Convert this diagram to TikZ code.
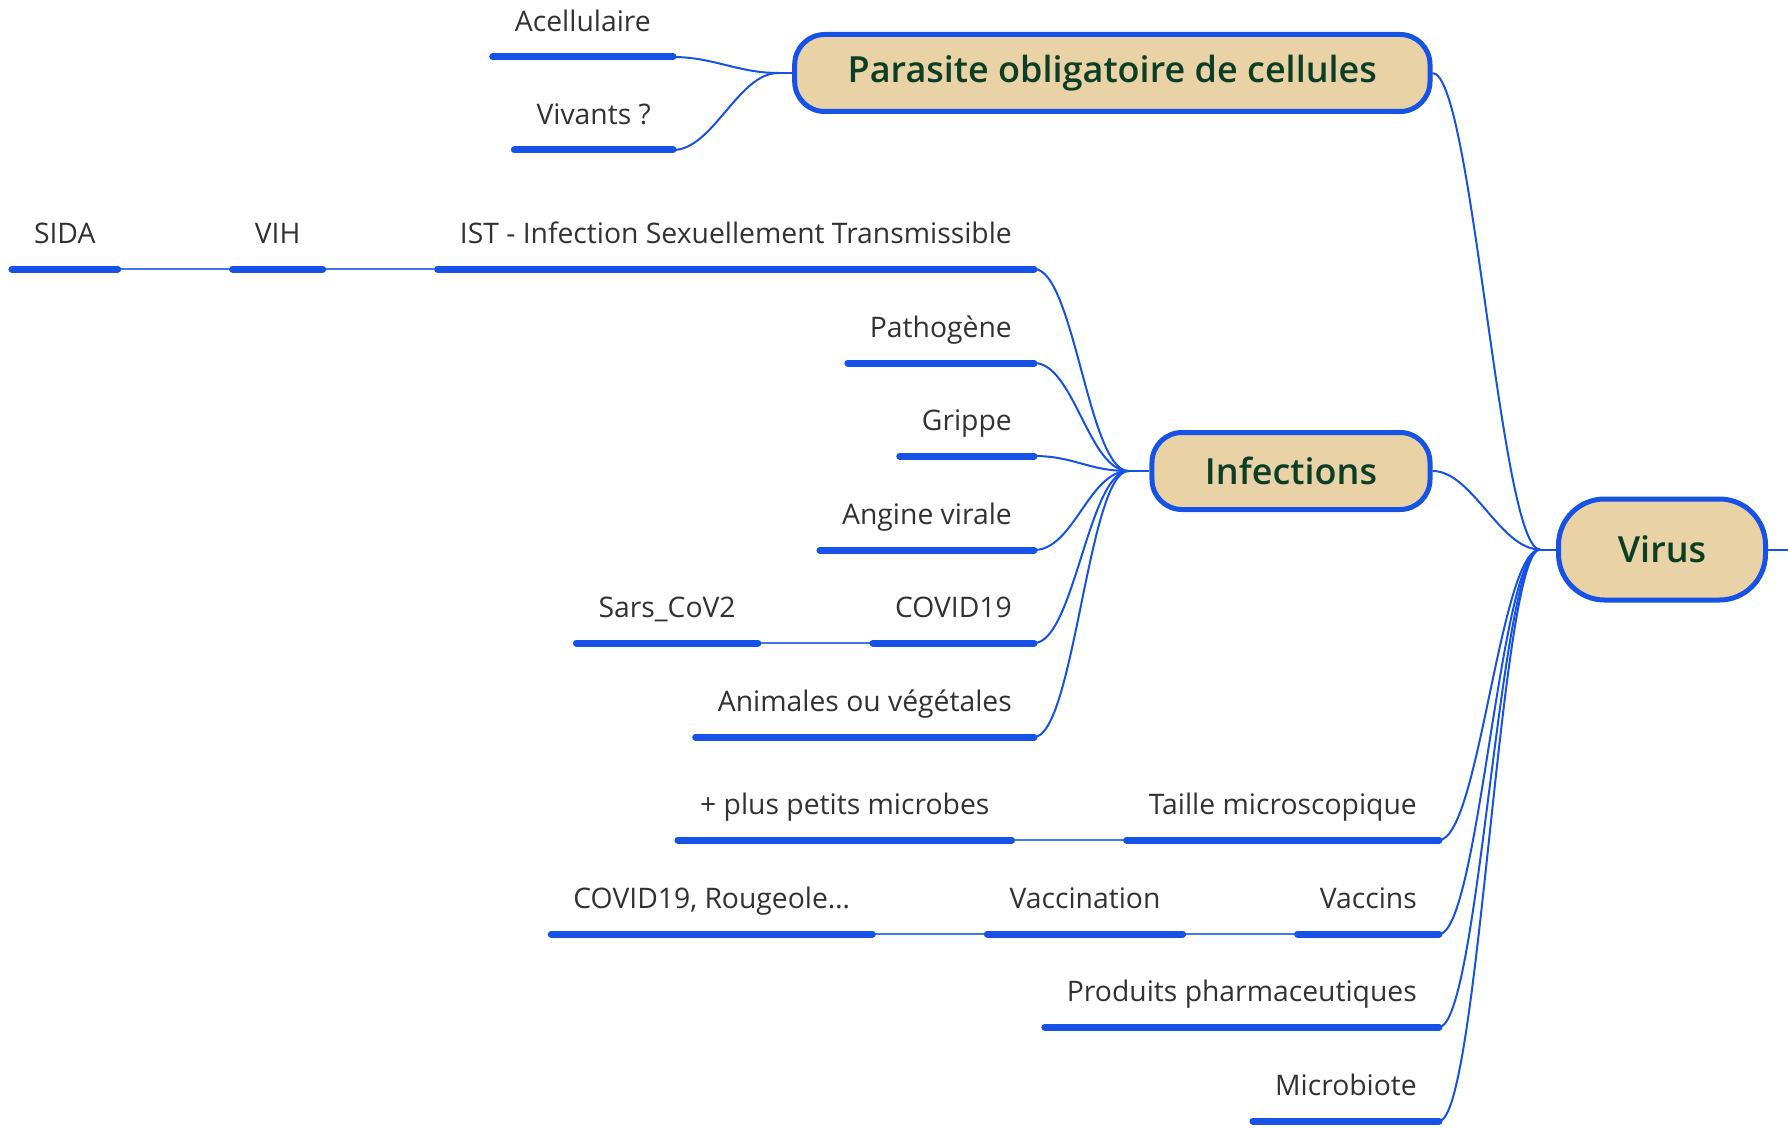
\documentclass[tikz,border=0pt]{standalone}
\usepackage{fontspec}
\setmainfont{Open Sans}
\newfontfamily\boxfont{Open Sans Semibold}
\usetikzlibrary{positioning, calc}

\definecolor{mapblue}{RGB}{22,82,232}
\definecolor{boxtan}{RGB}{233,211,166}
\definecolor{titlegreen}{RGB}{12,62,38}
\definecolor{labelgray}{RGB}{50,50,50}

\begin{document}
\begin{tikzpicture}[x=1pt, y=-1pt]
    % Define display style
    \tikzstyle{mainbox}=[draw=mapblue, line width=5pt, fill=boxtan, rounded corners=30pt, text=titlegreen, font=\fontsize{36}{42}\boxfont, inner xsep=53pt, minimum height=77pt]
    \tikzstyle{rootbox}=[mainbox, rounded corners=46pt, minimum height=101pt, minimum width=207pt]
    \tikzstyle{topic}=[anchor=south east, text=labelgray, font=\fontsize{28.3}{33}\selectfont, inner xsep=22pt, inner ysep=0pt, text depth=25pt]
    \tikzstyle{uline}=[mapblue, line width=7pt, line cap=round]
    \tikzstyle{link}=[mapblue, line width=2pt]
    \tikzstyle{joinline}=[mapblue!80, line width=2.5pt]
    \tikzstyle{branch}=[to path={.. controls ($(\tikztostart)+(40pt,0)$) and ($(\tikztotarget)+(-40pt,0)$) .. (\tikztotarget)}]

    % Fix the page size
    \useasboundingbox (0,0) rectangle (1788,1129);

    % Central topic and main boxes
    \node[rootbox, anchor=west] (virus) at (1556, 549.5) {Virus};
    \node[mainbox, anchor=east] (paras) at (1432.5, 73) {Parasite obligatoire de cellules};
    \node[mainbox, anchor=east] (infec) at (1432.5, 471) {Infections};

    % Create shortcuts for the fan points
    \coordinate[left=16pt of virus.west] (vfan);
    \coordinate[left=14pt of paras.west] (pfan);
    \coordinate[left=21pt of infec.west] (ifan);
    \coordinate (up) at (1788, 549.5);

    % Topics of Parasite obligatoire de cellules
    \node[topic] (acel) at (673, 57) {Acellulaire};
    \node[topic] (viv)  at (673, 150) {Vivants ?};

    % Topics of Infections
    \node[topic] (ist)   at (1034, 269) {IST - Infection Sexuellement Transmissible};
    \node[topic] (patho) at (1034, 363) {Pathogène};
    \node[topic] (grip)  at (1034, 456) {Grippe};
    \node[topic] (angi)  at (1034, 550) {Angine virale};
    \node[topic] (covid) at (1034, 643) {COVID19};
    \node[topic] (anim)  at (1034, 737) {Animales ou végétales};

    \node[topic, left=115pt of ist.south west, anchor=south east] (vih)  {VIH};
    \node[topic, left=115pt of vih.south west, anchor=south east] (sida) {SIDA};
    \node[topic, left=115pt of covid.south west, anchor=south east] (sars) {Sars\_CoV2};

    % Topics of Virus
    \node[topic] (taille)  at (1439, 840) {Taille microscopique};
    \node[topic] (vaccins) at (1439, 934) {Vaccins};
    \node[topic] (pharma)  at (1439, 1027) {Produits pharmaceutiques};
    \node[topic] (micro)   at (1439, 1121) {Microbiote};

    \node[topic, left=115pt of taille.south west, anchor=south east] (petits) {+ plus petits microbes};
    \node[topic, left=115pt of vaccins.south west, anchor=south east] (vaccin) {Vaccination};
    \node[topic, left=115pt of vaccin.south west, anchor=south east] (rouge) {COVID19, Rougeole…};

    % Draw the stubs to the fan points
    \draw[link] (virus.west) -- (vfan);
    \draw[link] (paras.west) -- (pfan);
    \draw[link] (infec.west) -- (ifan);
    \draw[link] (virus.east) -- (up);

    % Draw the curved branches
    \draw[link] (paras.east) to[branch] (vfan);
    \draw[link] (infec.east) to[branch] (vfan);
    \foreach \topicName in {taille, vaccins, pharma, micro}
        \draw[link] (\topicName.south east) to[branch] (vfan);

    \foreach \topicName in {acel, viv}
        \draw[link] (\topicName.south east) to[branch] (pfan);

    \foreach \topicName in {ist, patho, grip, angi, covid, anim}
        \draw[link] (\topicName.south east) to[branch] (ifan);

    % Draw the straight joins between chained topics
    \draw[joinline] (ist.south west) -- (vih.south east);
    \draw[joinline] (vih.south west) -- (sida.south east);
    \draw[joinline] (covid.south west) -- (sars.south east);
    \draw[joinline] (taille.south west) -- (petits.south east);
    \draw[joinline] (vaccins.south west) -- (vaccin.south east);
    \draw[joinline] (vaccin.south west) -- (rouge.south east);

    % Draw the underlines of each topic
    \foreach \topicName in {acel, viv, ist, patho, grip, angi, covid, anim, vih, sida, sars, taille, vaccins, pharma, micro, petits, vaccin, rouge}
        \draw[uline] (\topicName.south west) -- (\topicName.south east);
\end{tikzpicture}
\end{document}
